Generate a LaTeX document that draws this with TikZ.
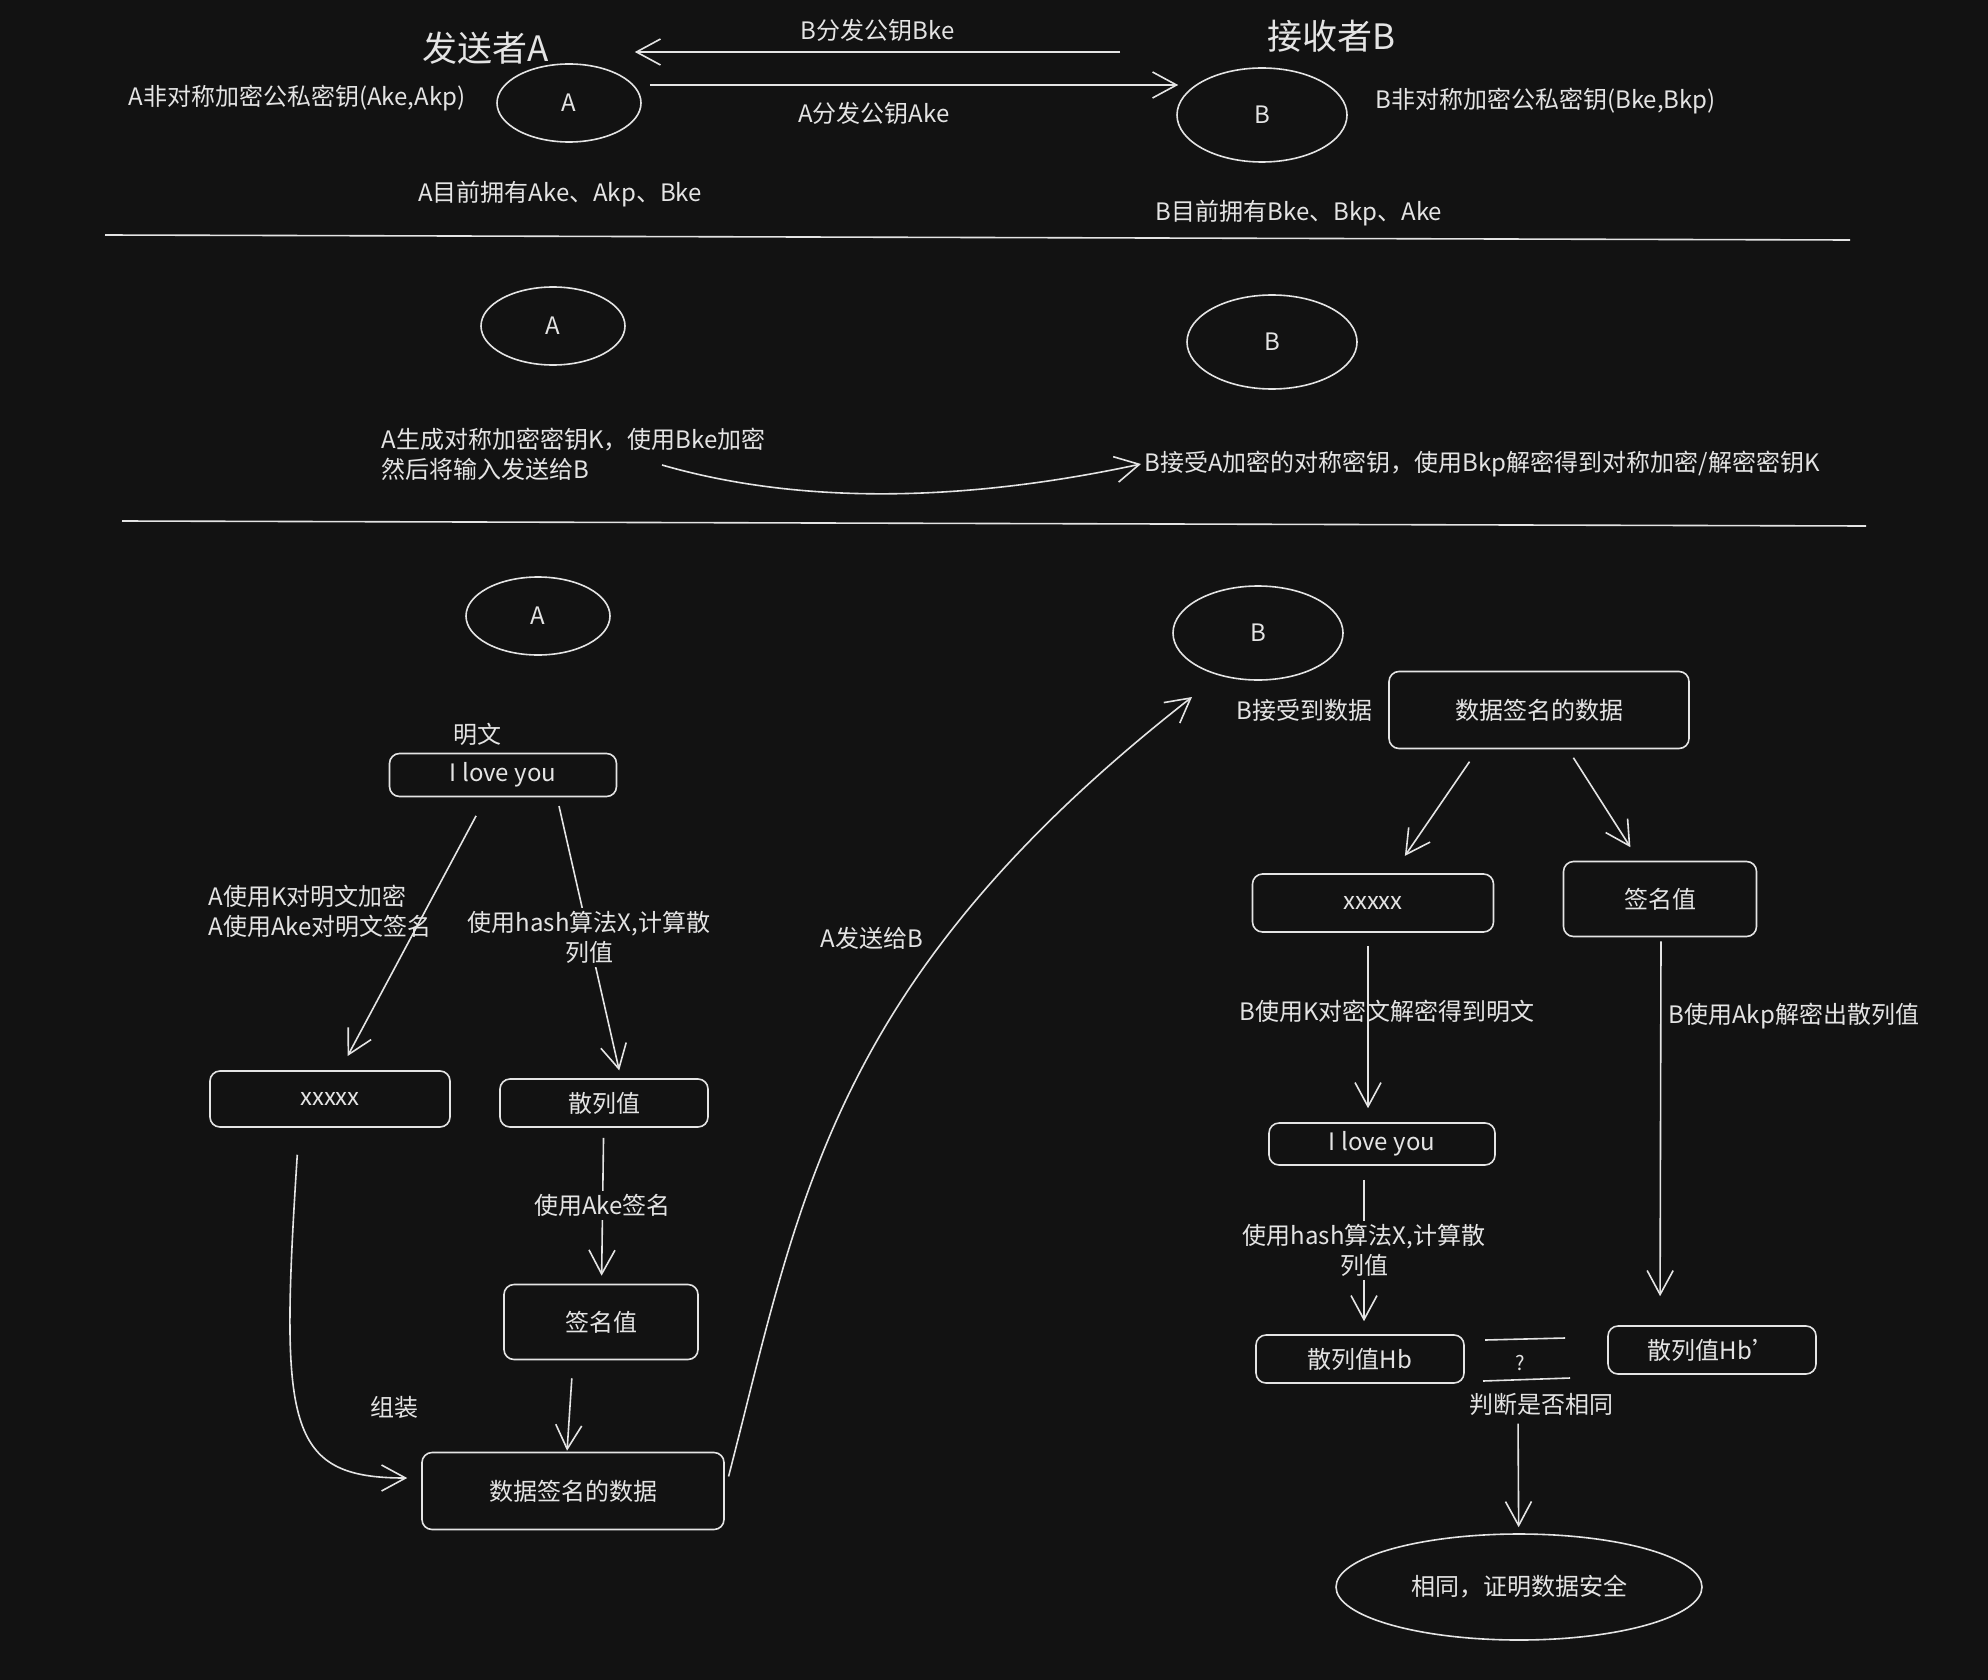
\documentclass[tikz,border=0pt]{standalone}
\usepackage{fontspec}
\setmainfont{Noto Sans CJK SC}
\usepackage{tikz}
\usetikzlibrary{positioning,arrows.meta,shapes.geometric}
\definecolor{bg}{HTML}{121212}
\definecolor{ink}{HTML}{E4E4E4}
\tikzset{
txt/.style = {text=ink, font=\fontsize{24}{30}\selectfont},
title/.style = {txt, font=\fontsize{35}{40}\selectfont}
}
\tikzset{
bubble/.style = {txt, ellipse, draw=ink, line width=1.6pt, inner sep=0pt, minimum width=144pt, minimum height=78pt},
bigbubble/.style = {bubble, minimum width=170pt, minimum height=94pt}
}
\tikzset{
roundbox/.style = {txt, rectangle, rounded corners=10pt, draw=ink, line width=1.6pt, inner sep=0pt, minimum width=#1},
roundbox/.default = 200pt % width of the box
}
\tikzset{arr/.style={draw=ink, line width=1.6pt, -{Straight Barb[length=24pt,width=26pt]}}}
\tikzset{rule/.style={draw=ink, line width=1.6pt}}

\begin{document}
\begin{tikzpicture}[x=1pt, y=-1pt]
    \fill [bg] (0,0) rectangle (1988,1680);
    \useasboundingbox (0,0) rectangle (1988,1680);

    % exchange of the public keys
    \node [title] (titleA) at (486,48) {发送者A};
    \node [title] (titleB) at (1331,36) {接收者B};
    \node [bubble] (ellA1) at (569,103) {A};
    \node [bigbubble] (ellB1) at (1262,115) {B};
    \node [txt, anchor=east] (keysA) at (469,98) {A非对称加密公私密钥(Ake,Akp)};
    \node [txt, anchor=west] (keysB) at (1372,101) {B非对称加密公私密钥(Bke,Bkp)};
    \node [txt] (hasA) at (560,194) {A目前拥有Ake、Akp、Bke};
    \node [txt] (hasB) at (1299,213) {B目前拥有Bke、Bkp、Ake};
    \draw [arr] ([shift={(-56,-63)}]ellB1.west) -- node [txt, above=6pt] (pubB) {B分发公钥Bke} ([shift={(-7,-51)}]ellA1.east);
    \draw [arr] ([shift={(8,-18)}]ellA1.east) -- node [txt, below=13pt, xshift=-40pt] (pubA) {A分发公钥Ake} ([shift={(2,-30)}]ellB1.west);
    \draw [rule] (105,235) -- (1850,240);

    % symmetric key K
    \node [bubble] (ellA2) at (553,326) {A};
    \node [bigbubble] (ellB2) at (1272,342) {B};
    \node [txt, anchor=west, align=left] (genK) at (378,454) {A生成对称加密密钥K，使用Bke加密\\然后将输入发送给B};
    \node [txt, anchor=west] (recvK) at (1141,464) {B接受A加密的对称密钥，使用Bkp解密得到对称加密/解密密钥K};
    \coordinate (genout) at (662,465);
    \draw [arr] (genout) .. controls (790,502) and (950,505) .. (recvK.west);
    \draw [rule] (122,521) -- (1866,526);

    % A signs and sends
    \node [bubble] (ellA3) at (538,616) {A};
    \node [roundbox=227pt, minimum height=43pt] (plainA) at (503,775) {I love you};
    \node [txt, above=4pt of plainA, xshift=-26pt] (mingwen) {明文};
    \node [roundbox=240pt, minimum height=56pt] (cipherA) at (330,1099) {xxxxx};
    \node [roundbox=208pt, minimum height=48pt] (hashA) at (604,1103) {散列值};
    \node [roundbox=194pt, minimum height=75pt] (sigA) at (601,1322) {签名值};
    \node [roundbox=302pt, minimum height=77pt] (dataA) at (573,1491) {数据签名的数据};
    \node [txt, anchor=west, align=left] (encA) at (205,911) {A使用K对明文加密\\A使用Ake对明文签名};
    \node [txt] (zuzhuang) at (394,1407) {组装};
    \node [txt] (sendlbl) at (872,938) {A发送给B};
    \draw [arr, shorten <=21pt, shorten >=16pt] ([xshift=-17pt]plainA.south) -- ([xshift=10pt]cipherA.north);
    \draw [arr, shorten <=9pt, shorten >=8pt] ([xshift=54pt]plainA.south) -- node [txt, fill=bg, align=center] (hashlblA) {使用hash算法X,计算散\\列值} ([xshift=17pt]hashA.north);
    \draw [arr, shorten <=10pt, shorten >=8pt] (hashA) -- node [txt, fill=bg] (signlblA) {使用Ake签名} (sigA);
    \draw [arr, shorten <=18pt, shorten >=1pt] ([xshift=-28pt]sigA.south) -- ([xshift=-6pt]dataA.north);
    \draw [arr, shorten <=27pt, shorten >=14pt] ([xshift=-31pt]cipherA.south) .. controls (280,1425) and (285,1478) .. ([yshift=13pt]dataA.west);
    \coordinate (sendend) at (1192,697);
    \draw [arr, shorten <=15pt] (dataA.east) .. controls (800,1200) and (830,980) .. (sendend);

    % B checks
    \node [bigbubble] (ellB3) at (1258,633) {B};
    \node [roundbox=300pt, minimum height=77pt] (dataB) at (1539,710) {数据签名的数据};
    \node [txt, left=12pt of dataB] (gotB) {B接受到数据};
    \node [roundbox=241pt, minimum height=58pt] (cipherB) at (1373,903) {xxxxx};
    \node [roundbox=193pt, minimum height=75pt] (sigB) at (1660,899) {签名值};
    \node [roundbox=226pt, minimum height=42pt] (plainB) at (1382,1144) {I love you};
    \node [roundbox=208pt, minimum height=48pt] (hbB) at (1360,1359) {散列值Hb};
    \node [roundbox=208pt, minimum height=48pt] (hbP) at (1712,1350) {散列值Hb'};
    \node [txt, font=\fontsize{20}{24}\selectfont] (qmark) at (1520,1363) {?};
    \node [txt] (judge) at (1541,1404) {判断是否相同};
    \node [bubble, minimum width=366pt, minimum height=106pt] (result) at (1519,1587) {相同，证明数据安全};
    \node [txt] (decLbl) at (1387,1011) {B使用K对密文解密得到明文};
    \node [txt, anchor=west] (verLbl) at (1665,1016) {B使用Akp解密出散列值};
    \draw [arr, shorten <=15pt, shorten >=21pt] ([xshift=-61pt]dataB.south) -- ([xshift=20pt]cipherB.north);
    \draw [arr, shorten <=10pt, shorten >=16pt] ([xshift=29pt]dataB.south) -- ([xshift=-21pt]sigB.north);
    \draw [arr, shorten <=13pt, shorten >=14pt] ([xshift=-5pt]cipherB.south) -- ([xshift=-14pt]plainB.north);
    \draw [arr, shorten <=4pt, shorten >=29pt] ([xshift=1pt]sigB.south) -- ([xshift=-52pt]hbP.north);
    \draw [arr, shorten <=14pt, shorten >=13pt] ([xshift=-18pt]plainB.south) -- node [txt, fill=bg, align=center] (hashlblB) {使用hash算法X,计算散\\列值} ([xshift=4pt]hbB.north);
    \draw [rule] (1485,1340) -- (1565,1338);
    \draw [rule] (1483,1381) -- (1570,1378);
    \draw [arr, shorten <=5pt, shorten >=6pt] ([xshift=-23pt]judge.south) -- (result);
\end{tikzpicture}
\end{document}
